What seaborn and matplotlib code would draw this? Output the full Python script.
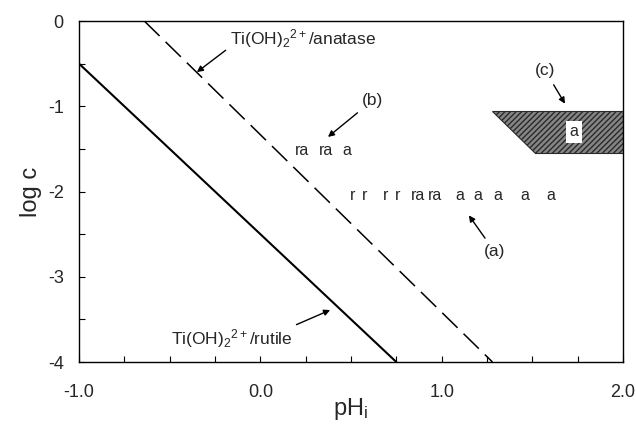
import matplotlib
matplotlib.use("Agg")
import matplotlib.pyplot as plt
import seaborn as sns
import numpy as np
import pandas as pd
from matplotlib.patches import Polygon
from matplotlib.ticker import MultipleLocator, FixedLocator

# ---- data ----
rutile_ph = [-1.0, 0.75]
rutile_logc = [-0.5, -4.0]
anatase_ph = [-0.64, 1.28]
anatase_logc = [0.0, -4.0]

series_a_ph = [0.51, 0.577, 0.688, 0.754, 0.87, 0.963, 1.10, 1.20, 1.31, 1.46, 1.60]
series_a_lab = ['r', 'r', 'r', 'r', 'ra', 'ra', 'a', 'a', 'a', 'a', 'a']
series_a_logc = -2.05

series_b_ph = [0.23, 0.362, 0.478]
series_b_lab = ['ra', 'ra', 'a']
series_b_logc = -1.52

region_c_ph = [1.28, 2.0, 2.0, 1.515]
region_c_logc = [-1.05, -1.05, -1.55, -1.55]

xticks = [-1.0, 0.0, 1.0, 2.0]
xticklabels = ['-1.0', '0.0', '1.0', '2.0']
yticks = [0, -1, -2, -3, -4]
yticklabels = ['0', '-1', '-2', '-3', '-4']

# ---- style ----
sns.set_theme(style="white")
plt.rcParams['font.family'] = ['Liberation Sans', 'DejaVu Sans']
plt.rcParams['mathtext.fontset'] = 'custom'
plt.rcParams['mathtext.rm'] = 'Liberation Sans'
plt.rcParams['mathtext.it'] = 'Liberation Sans:italic'

fig = plt.figure(figsize=(6.36, 4.26), dpi=100)
ax = fig.add_axes([0.1242, 0.1502, 0.8554, 0.8005])

df_r = pd.DataFrame({'pH': rutile_ph, 'logc': rutile_logc})
df_a = pd.DataFrame({'pH': anatase_ph, 'logc': anatase_logc})
sns.lineplot(data=df_r, x='pH', y='logc', ax=ax, color='black', lw=1.5)
sns.lineplot(data=df_a, x='pH', y='logc', ax=ax, color='black', lw=1.1,
             dashes=False, linestyle=(0, (14, 5.5)))

poly = Polygon(list(zip(region_c_ph, region_c_logc)), closed=True,
               facecolor='#858585', edgecolor='#2a2a2a', hatch='//////', lw=0.8)
ax.add_patch(poly)
ax.text(1.73, -1.30, 'a', ha='center', va='center', fontsize=11.5,
        bbox=dict(facecolor='white', edgecolor='none', pad=2.5))

for p, lab in zip(series_a_ph, series_a_lab):
    ax.text(p, series_a_logc, lab, ha='center', va='center', fontsize=11.5)
for p, lab in zip(series_b_ph, series_b_lab):
    ax.text(p, series_b_logc, lab, ha='center', va='center', fontsize=11.5)

arrow = dict(arrowstyle='-|>', color='black', lw=1.0, mutation_scale=9)
ax.annotate(r'Ti(OH)$_\mathregular{2}$$^\mathregular{2+}$/anatase',
            xy=(-0.35, -0.6), xytext=(-0.167, -0.21), fontsize=12.5,
            ha='left', va='center',
            arrowprops=dict(arrow, shrinkA=1, shrinkB=0, relpos=(0.0, 0.15)),
            annotation_clip=False)
ax.annotate(r'Ti(OH)$_\mathregular{2}$$^\mathregular{2+}$/rutile',
            xy=(0.385, -3.39), xytext=(-0.49, -3.72), fontsize=12.5,
            ha='left', va='center',
            arrowprops=dict(arrow, shrinkA=0, shrinkB=0, relpos=(0.88, 0.75)))
ax.annotate('(b)', xy=(0.373, -1.36), xytext=(0.62, -0.93), fontsize=12.5,
            ha='center', va='center', arrowprops=dict(arrow, shrinkA=2, shrinkB=0))
ax.annotate('(a)', xy=(1.15, -2.28), xytext=(1.29, -2.70), fontsize=12.5,
            ha='center', va='center', arrowprops=dict(arrow, shrinkA=2, shrinkB=0))
ax.annotate('(c)', xy=(1.68, -0.97), xytext=(1.57, -0.58), fontsize=12.5,
            ha='center', va='center', arrowprops=dict(arrow, shrinkA=3, shrinkB=0))

ax.set_xlim(-1.0, 2.0)
ax.set_ylim(-4.0, 0.0)
ax.xaxis.set_major_locator(FixedLocator(xticks))
ax.set_xticklabels(xticklabels)
ax.yaxis.set_major_locator(FixedLocator(yticks))
ax.set_yticklabels(yticklabels)
ax.xaxis.set_minor_locator(MultipleLocator(0.25))
ax.yaxis.set_minor_locator(MultipleLocator(0.5))
ax.tick_params(axis='both', which='both', direction='in', length=4, width=0.8,
               color='black', labelsize=13, bottom=True, left=True,
               top=False, right=False)
ax.tick_params(axis='x', which='major', pad=16)
ax.tick_params(axis='y', which='major', pad=11)
ax.set_xlabel(r'pH$_\mathregular{i}$', fontsize=17, labelpad=-4)
ax.set_ylabel('log c', fontsize=17, labelpad=4)
for s in ax.spines.values():
    s.set_color('black')
    s.set_linewidth(1.0)

fig.savefig('out.png', dpi=100)
